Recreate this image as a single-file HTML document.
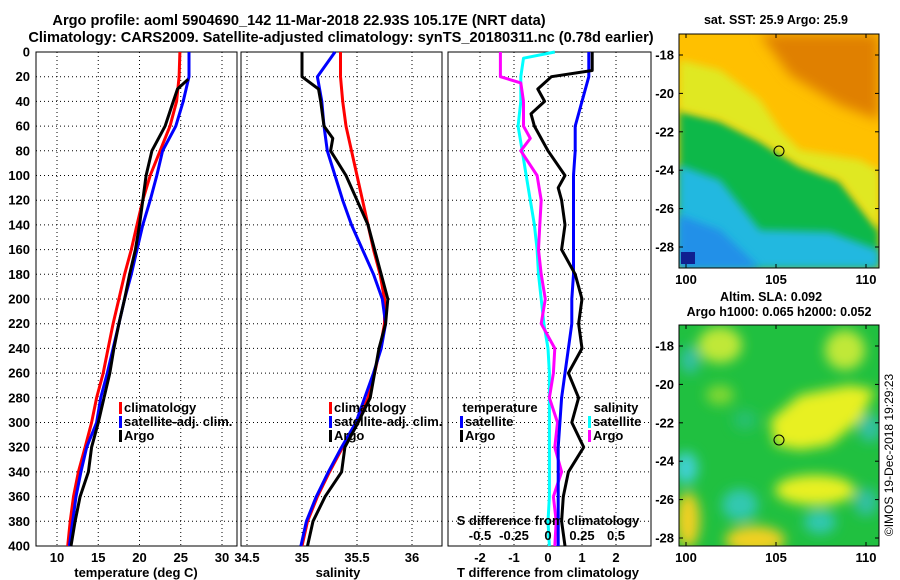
<!DOCTYPE html>
<html><head><meta charset="utf-8"><style>
body{margin:0;background:#fff;}
svg{display:block;font-family:"Liberation Sans",sans-serif;font-weight:bold;}
</style></head><body>
<svg id="chart" width="900" height="580" viewBox="0 0 900 580">
<defs>
<filter id="blur" x="-50%" y="-50%" width="200%" height="200%"><feGaussianBlur stdDeviation="6"/></filter>
<filter id="blur2" x="-50%" y="-50%" width="200%" height="200%"><feGaussianBlur stdDeviation="4"/></filter>
<clipPath id="c1"><rect x="679" y="34" width="200" height="234"/></clipPath>
<clipPath id="c2"><rect x="679" y="325" width="200" height="221"/></clipPath>
</defs>
<text x="299" y="25" text-anchor="middle" font-size="14.6">Argo profile: aoml 5904690_142 11-Mar-2018 22.93S 105.17E (NRT data)</text>
<text x="341" y="42" text-anchor="middle" font-size="14.6">Climatology: CARS2009. Satellite-adjusted climatology: synTS_20180311.nc (0.78d earlier)</text>
<g id="p1"></g>
<g id="p2"></g>
<g id="p3"></g>
<g id="maps">
 <g clip-path="url(#c1)">
  <rect x="679" y="34" width="200" height="234" fill="#30b8e8"/>
  <rect x="679" y="34" width="200" height="234" fill="#ffc000"/>
  <path d="M679 110 L720 120 L760 140 L775 150 L800 165 L840 180 L879 230 L879 268 L679 268Z" fill="#10b848" filter="url(#blur2)"/>
  <path d="M679 165 L720 180 L760 230 L830 232 L879 250 L879 268 L679 268Z" fill="#20b8e0" filter="url(#blur2)"/>
  <path d="M679 215 L720 230 L760 268 L679 268Z" fill="#2090e8" filter="url(#blur2)"/>
  <path d="M680 60 L720 70 L760 100 L780 130 L800 150 L860 160 L879 170 L879 230 L840 180 L800 165 L760 140 L720 120 L679 110Z" fill="#e0e820" filter="url(#blur2)"/>
  <path d="M760 34 L879 34 L879 120 L840 105 L790 75Z" fill="#e08000" filter="url(#blur)"/>
  <rect x="681" y="252" width="14" height="12" fill="#102090"/>
 </g>
 <rect x="679" y="34" width="200" height="234" fill="none" stroke="#000"/>
 <circle cx="779" cy="151" r="5" fill="none" stroke="#000"/>
 <g clip-path="url(#c2)">
  <rect x="679" y="325" width="200" height="221" fill="#20c040"/>
  <g filter="url(#blur)">
   <path d="M770 420 L800 395 L850 385 L875 390 L860 420 L830 445 L800 450 L775 445Z" fill="#e8f020"/>
   <ellipse cx="720" cy="345" rx="22" ry="18" fill="#c0e838"/>
   <ellipse cx="845" cy="350" rx="20" ry="20" fill="#c0e838"/>
   <ellipse cx="815" cy="490" rx="40" ry="15" fill="#e8f020"/>
   <ellipse cx="688" cy="520" rx="12" ry="28" fill="#f0d020"/>
   <ellipse cx="755" cy="540" rx="30" ry="14" fill="#f0d020"/>
   <ellipse cx="740" cy="505" rx="18" ry="16" fill="#30c8b0"/>
   <ellipse cx="686" cy="468" rx="12" ry="16" fill="#40d0d0"/>
   <ellipse cx="820" cy="522" rx="16" ry="12" fill="#30c8b0"/>
   <ellipse cx="866" cy="502" rx="12" ry="14" fill="#30c0a0"/>
   <ellipse cx="870" cy="428" rx="12" ry="14" fill="#30c0a0"/>
   <ellipse cx="690" cy="360" rx="10" ry="14" fill="#30c0a0"/>
   <ellipse cx="745" cy="420" rx="12" ry="10" fill="#28c070"/>
   <ellipse cx="720" cy="395" rx="14" ry="10" fill="#80d830"/>
  </g>
 </g>
 <rect x="679" y="325" width="200" height="221" fill="none" stroke="#000"/>
 <circle cx="779" cy="440" r="5" fill="none" stroke="#000"/>
 <text x="776" y="24" text-anchor="middle" font-size="12.5">sat. SST: 25.9 Argo: 25.9</text>
 <text x="771" y="301" text-anchor="middle" font-size="12.5">Altim. SLA: 0.092</text>
 <text x="779" y="316" text-anchor="middle" font-size="12.5">Argo h1000: 0.065 h2000: 0.052</text>
 <text transform="translate(893,455) rotate(-90)" text-anchor="middle" font-size="12" font-weight="normal">©IMOS 19-Dec-2018 19:29:23</text>
</g>
</svg>
<script>
// depth grid
const depths = [0,20,40,60,80,100,120,140,160,180,200,220,240,260,280,300,320,340,360,380,400];
const tempClim = [24.9,24.8,24.5,23.7,22.5,21.3,20.4,19.7,19.0,18.2,17.5,16.8,16.2,15.6,14.8,14.2,13.4,12.6,12.0,11.6,11.3];
const tempSat  = [26.0,26.0,25.3,24.4,22.8,22.1,21.3,20.4,19.7,19.0,18.2,17.5,16.8,16.1,15.3,14.8,13.6,12.9,12.3,11.9,11.5];
const argoDepths = [22,30,40,60,80,100,120,140,160,180,200,220,240,260,280,300,320,340,360,380,400];
const tempArgo = [25.9,24.6,24.1,23.1,21.5,20.8,20.4,20.0,19.5,18.8,18.2,17.5,16.9,16.4,15.7,15.0,14.2,13.8,12.8,12.2,11.7];
const salClim = [35.35,35.35,35.37,35.40,35.45,35.50,35.55,35.60,35.65,35.71,35.75,35.75,35.71,35.66,35.60,35.51,35.37,35.25,35.14,35.05,35.00];
const salSat  = [35.30,35.14,35.18,35.20,35.23,35.30,35.37,35.45,35.55,35.65,35.73,35.76,35.72,35.65,35.57,35.49,35.36,35.24,35.13,35.04,34.99];
const salArgoDepths = [0,20,30,40,60,70,80,100,120,140,160,180,200,220,240,260,280,300,320,340,360,380,400];
const salArgo = [35.0,35.0,35.15,35.17,35.2,35.28,35.26,35.4,35.5,35.6,35.66,35.72,35.78,35.76,35.7,35.66,35.62,35.51,35.39,35.36,35.21,35.1,35.05];
const dTSat = [1.2,1.2,1.0,0.8,0.8,0.75,0.75,0.75,0.75,0.75,0.7,0.7,0.6,0.5,0.4,0.35,0.3,0.3,0.3,0.3,0.3];
const dTArgoDepths = [0,15,20,30,40,50,60,80,100,110,120,140,160,180,200,220,240,260,280,300,320,340,360,380,400];
const dTArgo = [1.3,1.3,0.1,-0.3,-0.1,-0.5,-0.4,0,0.5,0.3,0.4,0.5,0.4,0.8,1.0,0.9,1.0,0.6,0.9,0.7,1.05,0.6,0.45,0.4,0.5];
const dSSatDepths = [0,5,20,40,60,80,100,120,140,160,180,200,220,240,260,280,300,320,340,360,380,400];
const dSSat = [0.05,-0.18,-0.2,-0.2,-0.22,-0.19,-0.16,-0.13,-0.1,-0.08,-0.07,-0.05,-0.03,0,0.01,0.01,0.01,0.01,0.01,0.01,0,0.01];
const dSArgoDepths = [0,20,25,40,60,70,80,100,120,140,160,180,200,220,240,260,280,300,320,340,360,380,400];
const dSArgo = [-0.35,-0.35,-0.2,-0.18,-0.18,-0.13,-0.2,-0.08,-0.05,-0.06,-0.07,-0.05,-0.02,-0.05,0.05,0.04,0.01,0.07,0.05,0.1,0.04,0.06,0.05];
const tempTicks = [10,15,20,25,30];
const salTicks = [34.5,35,35.5,36];
const dTTicks = [-2,-1,0,1,2];
const dSTicks = [-0.5,-0.25,0,0.25,0.5];
const dSLabels = ['-0.5','-0.25','0','0.25','0.5'];
const depthTicks = [0,20,40,60,80,100,120,140,160,180,200,220,240,260,280,300,320,340,360,380,400];
const lonTicks = [100,105,110];
const latTicks = [-18,-20,-22,-24,-26,-28];

const NS='http://www.w3.org/2000/svg';
const Y0=52, Y1=546;
const yD = d => Y0 + d*(Y1-Y0)/400;
const xT = t => 57 + (t-10)*8.25;
const xS = s => 302 + (s-35)*110;
const xDT = t => 548 + t*34;
const xDS = s => 548 + s*136;
function mk(parent, tag, attrs){const e=document.createElementNS(NS,tag);for(const k in attrs)e.setAttribute(k,attrs[k]);parent.appendChild(e);return e;}
function txt(parent,x,y,s,anchor,size){const e=mk(parent,'text',{x:x,y:y,'text-anchor':anchor||'middle','font-size':size||13});e.textContent=s;return e;}
function line(parent, xs, ds, fx, color, w){
  const pts = xs.map((v,i)=>fx(v).toFixed(1)+','+yD(ds[i]).toFixed(1)).join(' ');
  return mk(parent,'polyline',{points:pts,fill:'none',stroke:color,'stroke-width':w||3,'stroke-linejoin':'round'});
}
function panel(g, x0, x1, ticks, fx, labels, showDepth){
  const fr = mk(g,'rect',{x:x0,y:Y0,width:x1-x0,height:Y1-Y0,fill:'#fff',stroke:'#000','stroke-width':1});
  
  
  depthTicks.forEach(d=>{
    const l=mk(g,'line',{x1:x0,x2:x1,y1:yD(d),y2:yD(d),stroke:'#000','stroke-dasharray':'1,3','stroke-width':1});
    
    
    if(showDepth){const t=txt(g,x0-6,yD(d)+4.5,String(d),'end',13);
      
      }
  });
  ticks.forEach((v,i)=>{
    const l=mk(g,'line',{x1:fx(v),x2:fx(v),y1:Y0,y2:Y1,stroke:'#000','stroke-dasharray':'1,3','stroke-width':1});
    
    
    if(labels){const t=txt(g,fx(v),562,labels[i],'middle',13);
      
      }
  });
}
function legend(g,x,y,color,label){
  const r=mk(g,'rect',{x:x,y:y-10,width:3,height:12,fill:color});
  
  
  const t=txt(g,x+5,y,label,'start',13);
  
  
}
// panel 1
const p1=document.getElementById('p1');
panel(p1,36,237,tempTicks,xT,tempTicks.map(String),true);
let e;
e=line(p1,tempClim,depths,xT,'#f00');
e=line(p1,tempSat,depths,xT,'#00f');
e=line(p1,tempArgo,argoDepths,xT,'#000');
legend(p1,119,412,'#f00','climatology');legend(p1,119,426,'#00f','satellite-adj. clim.');legend(p1,119,440,'#000','Argo');
e=txt(p1,136,577,'temperature (deg C)');
// panel 2
const p2=document.getElementById('p2');
panel(p2,241,442,salTicks,xS,salTicks.map(String),false);
e=line(p2,salClim,depths,xS,'#f00');
e=line(p2,salSat,depths,xS,'#00f');
e=line(p2,salArgo,salArgoDepths,xS,'#000');
legend(p2,329,412,'#f00','climatology');legend(p2,329,426,'#00f','satellite-adj. clim.');legend(p2,329,440,'#000','Argo');
e=txt(p2,338,577,'salinity');
// panel 3
const p3=document.getElementById('p3');
panel(p3,448,651,dTTicks,xDT,dTTicks.map(String),false);
e=line(p3,dSSat,dSSatDepths,xDS,'#0ff');
e=line(p3,dSArgo,dSArgoDepths,xDS,'#f0f');
e=line(p3,dTSat,depths,xDT,'#00f');
e=line(p3,dTArgo,dTArgoDepths,xDT,'#000');
e=txt(p3,500,412,'temperature','middle',13);
legend(p3,460,426,'#00f','satellite');legend(p3,460,440,'#000','Argo');
e=txt(p3,616,412,'salinity','middle',13);
legend(p3,588,426,'#0ff','satellite');legend(p3,588,440,'#f0f','Argo');
e=txt(p3,548,525,'S difference from climatology');
dSTicks.forEach((v,i)=>{const t=txt(p3,xDS(v),540,dSLabels[i],'middle',13);
  
  });
e=txt(p3,548,577,'T difference from climatology');
// map axes
const maps=document.getElementById('maps');
const xLon = lo => 686 + (lo-100)*18.0;
function mapAxes(top,bottom,latY){
  lonTicks.forEach(lo=>{
    mk(maps,'line',{x1:xLon(lo),x2:xLon(lo),y1:bottom,y2:bottom-4,stroke:'#000'});
    mk(maps,'line',{x1:xLon(lo),x2:xLon(lo),y1:top,y2:top+4,stroke:'#000'});
    const t=txt(maps,xLon(lo),bottom+16,String(lo),'middle',13);
    
    
  });
  latTicks.forEach(la=>{
    const y=latY(la);
    mk(maps,'line',{x1:679,x2:683,y1:y,y2:y,stroke:'#000'});
    mk(maps,'line',{x1:875,x2:879,y1:y,y2:y,stroke:'#000'});
    const t=txt(maps,674,y+4.5,String(la),'end',13);
    
    
  });
}
mapAxes(34,268,la=>55+(-18-la)*19.2);
mapAxes(325,546,la=>346+(-18-la)*19.2);
</script>
</body></html>
